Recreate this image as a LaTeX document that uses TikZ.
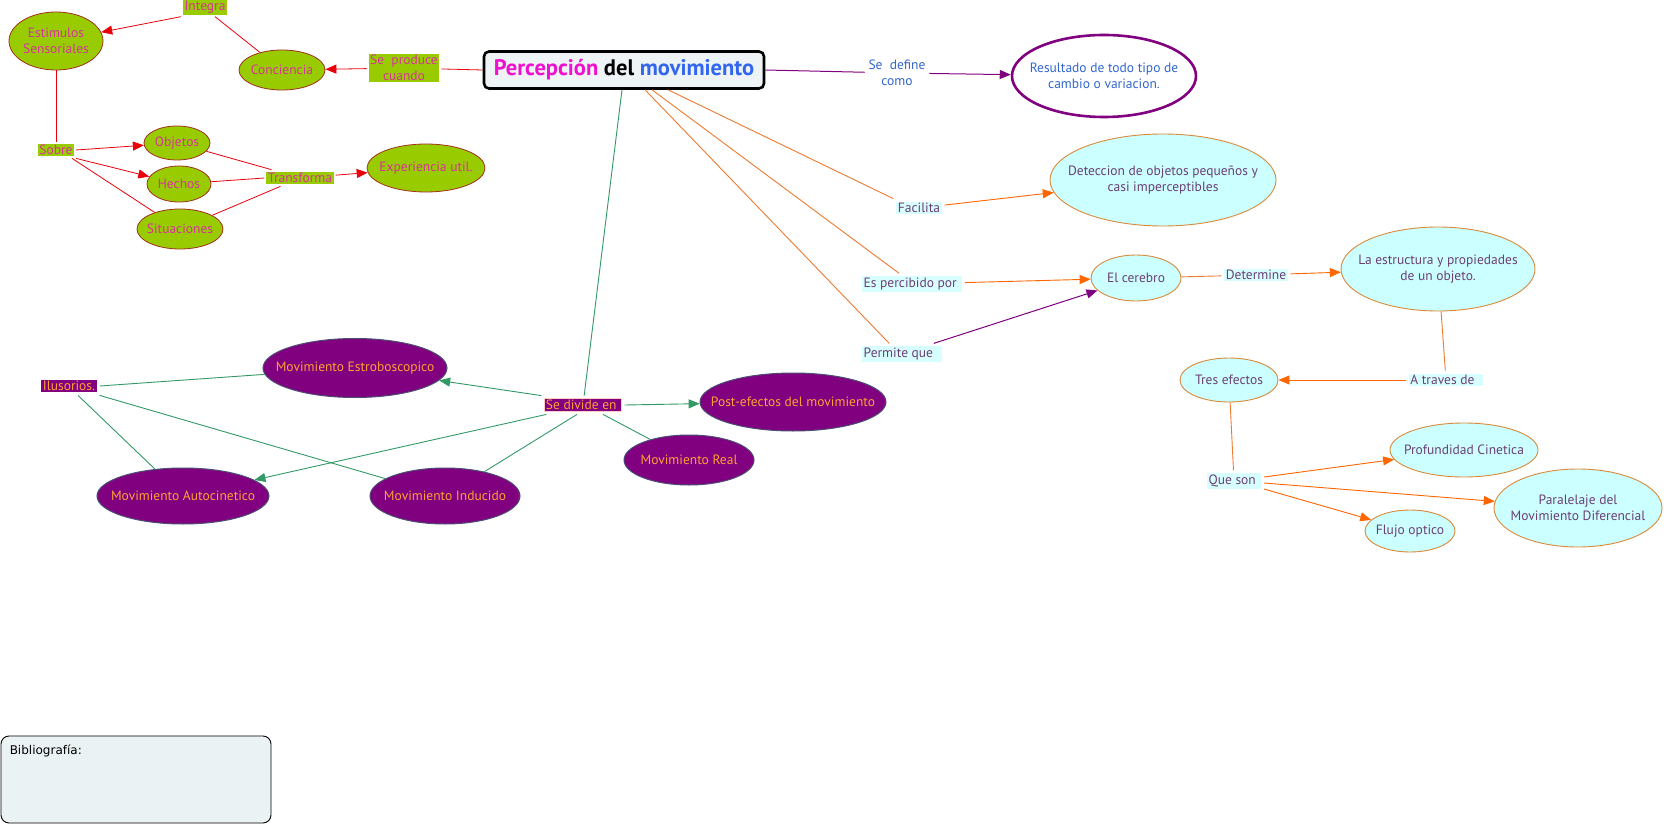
\documentclass[tikz,border=0pt]{standalone}
\usepackage{fontspec}
\setmainfont{PT Sans}
\newfontfamily\bibfont{DejaVu Sans}
\usetikzlibrary{shapes.geometric,arrows.meta}
\definecolor{ggreen}{HTML}{99CC00}
\definecolor{gpink}{HTML}{D6339C}
\definecolor{gborder}{HTML}{A0301A}
\definecolor{rline}{HTML}{E8000B}
\definecolor{purp}{HTML}{800080}
\definecolor{bluetxt}{HTML}{3366CC}
\definecolor{titlemag}{HTML}{F010D0}
\definecolor{titleblue}{HTML}{3366EE}
\definecolor{titlefill}{HTML}{EEF3F6}
\definecolor{cfill}{HTML}{CCFFFF}
\definecolor{clabel}{HTML}{D8FFFF}
\definecolor{oborder}{HTML}{D98A3A}
\definecolor{oline}{HTML}{EE7A30}
\definecolor{oarrow}{HTML}{FF6600}
\definecolor{ptxt}{HTML}{6B3F75}
\definecolor{mborder}{HTML}{4D4D73}
\definecolor{mtxt}{HTML}{FFA033}
\definecolor{gline}{HTML}{339966}
\definecolor{bibfill}{HTML}{EBF2F4}
\tikzset{
  base/.style={font=\fontsize{13.5}{16}\selectfont, align=center, inner sep=0pt},
  gtxt/.style={base, text=gpink},
  ctxt/.style={base, text=ptxt},
  mtx/.style={base, text=mtxt},
  btxt/.style={base, text=bluetxt},
  gell/.style={ellipse, inner sep=0pt, fill=ggreen, draw=gborder, line width=0.8pt},
  glab/.style={base, fill=ggreen, text=gpink, inner sep=1.5pt, outer sep=2pt},
  cell/.style={ellipse, inner sep=0pt, fill=cfill, draw=oborder, line width=0.9pt},
  clab/.style={base, fill=clabel, text=ptxt, inner sep=1.5pt, outer sep=3pt},
  mell/.style={ellipse, inner sep=0pt, fill=purp, draw=mborder, line width=1pt},
  mlab/.style={base, fill=purp, text=mtxt, inner sep=1.5pt, outer sep=3pt},
  tip/.style={-{Triangle[length=11pt,width=9pt]}},
  redl/.style={draw=rline, line width=0.8pt},
  redtip/.style={redl, tip, rline},
  orl/.style={draw=oline, line width=0.9pt},
  ortip/.style={draw=oarrow, line width=0.9pt, tip},
  pul/.style={draw=purp, line width=1pt},
  putip/.style={pul, tip},
  grl/.style={draw=gline, line width=0.9pt},
  grtip/.style={grl, tip},
}
\begin{document}
\begin{tikzpicture}[x=1pt,y=-1pt]
\useasboundingbox (0,0) rectangle (1664,826);
\fill[white] (0,0) rectangle (1664,826);

% green cluster
\node[gell, minimum width=94pt, minimum height=58pt, label={[gtxt]center:Estimulos\\Sensoriales}] (est) at (56,41) {};
\node[gell, minimum width=86pt, minimum height=40pt, label={[gtxt]center:Conciencia}] (conc) at (282,70) {};
\node[gell, minimum width=66pt, minimum height=34pt, label={[gtxt]center:Objetos}] (obj) at (177,143) {};
\node[gell, minimum width=64pt, minimum height=36pt, label={[gtxt]center:Hechos}] (hech) at (179,184) {};
\node[gell, minimum width=86pt, minimum height=40pt, label={[gtxt]center:Situaciones}] (sit) at (180,229) {};
\node[gell, minimum width=118pt, minimum height=48pt, label={[gtxt]center:Experiencia util.}] (exp) at (426,168) {};
\node[glab] (integ) at (205,7) {Integra};
\node[glab] (seprod) at (404,68) {Se~~produce\\cuando};
\node[glab] (sobre) at (56,150) {Sobre};
\node[glab] (transf) at (300,178) {Transforma};

% title
\node[draw=black, line width=2.6pt, rounded corners=5pt, fill=titlefill,
      minimum width=280pt, minimum height=37pt, inner sep=0pt,
      font=\fontsize{22.5}{24}\selectfont\bfseries] (title) at (624,70)
      {\textcolor{titlemag}{Percepción} \textcolor{black}{del} \textcolor{titleblue}{movimiento}};

% right side
\node[btxt, outer sep=4pt] (sedef) at (897,73) {Se~~define\\como};
\node[ellipse, inner sep=0pt, draw=purp, line width=2.6pt, fill=white,
      minimum width=184pt, minimum height=82pt, label={[btxt]center:Resultado de todo tipo de\\cambio o variacion.}] (res) at (1104,76) {};
\node[cell, minimum width=226pt, minimum height=92pt, label={[ctxt]center:Deteccion de objetos pequeños y\\casi imperceptibles}] (det) at (1163,180) {};
\node[clab] (facil) at (919,208) {Facilita};
\node[clab] (esperc) at (912,284) {Es percibido por~};
\node[clab] (permite) at (902,354) {Permite que~~};
\node[cell, minimum width=90pt, minimum height=46pt, label={[ctxt]center:El cerebro}] (cer) at (1136,278) {};
\node[clab] (determ) at (1256,275) {Determine};
\node[cell, minimum width=194pt, minimum height=84pt, label={[ctxt]center:La estructura y propiedades\\de un objeto.}] (estr) at (1438,269) {};
\node[clab] (atrav) at (1446,380) {A traves de~~};
\node[cell, minimum width=98pt, minimum height=44pt, label={[ctxt]center:Tres efectos}] (tres) at (1229,380) {};
\node[clab] (queson) at (1234,481) {Que son~};
\node[cell, minimum width=148pt, minimum height=54pt, label={[ctxt]center:Profundidad Cinetica}] (prof) at (1464,450) {};
\node[cell, minimum width=168pt, minimum height=78pt, label={[ctxt]center:Paralelaje del\\Movimiento Diferencial}] (para) at (1578,508) {};
\node[cell, minimum width=90pt, minimum height=42pt, label={[ctxt]center:Flujo optico}] (flujo) at (1410,531) {};

% purple cluster
\node[mlab] (ilus) at (69,386) {Ilusorios.};
\node[mell, minimum width=184pt, minimum height=59pt, label={[mtx]center:Movimiento Estroboscopico}] (estrob) at (355,368) {};
\node[mell, minimum width=172pt, minimum height=56pt, label={[mtx]center:Movimiento Autocinetico}] (auto) at (183,496) {};
\node[mell, minimum width=150pt, minimum height=56pt, label={[mtx]center:Movimiento Inducido}] (induc) at (445,496) {};
\node[mlab, draw=pink!80, line width=0.8pt] (sediv) at (583,405) {Se divide en~};
\node[mell, minimum width=186pt, minimum height=58pt, label={[mtx]center:Post-efectos del movimiento}] (post) at (793,402) {};
\node[mell, minimum width=130pt, minimum height=50pt, label={[mtx]center:Movimiento Real}] (real) at (689,460) {};

% bibliography
\node[draw=black, line width=0.9pt, rounded corners=8pt, fill=bibfill,
      minimum width=270pt, minimum height=87pt, inner sep=0pt] (bib) at (136,779.5) {};
\node[anchor=north west, inner sep=0pt, font=\bibfont\fontsize{12}{14}\selectfont] (bibt) at ([xshift=9pt,yshift=-9pt]bib.north west) {Bibliografía:};

% green cluster edges
\draw[redtip] (integ.south west) -- (est);
\draw[redl] ([xshift=10pt]integ.south) -- (conc);
\draw[redtip] (seprod) -- (conc);
\draw[redl] (title.west) -- (seprod);
\draw[redl] (est) -- (sobre);
\draw[redtip] (sobre.east) -- (obj);
\draw[redtip] (sobre.south east) -- (hech);
\draw[redl] ([xshift=-4pt]sobre.south east) -- (sit);
\draw[redl] (obj) -- ([xshift=7pt]transf.north west);
\draw[redl] (hech) -- (transf.west);
\draw[redl] (sit) -- ([xshift=16pt]transf.south west);
\draw[redtip] (transf) -- (exp);

% right edges
\draw[pul] (title.east) -- (sedef);
\draw[putip] (sedef) -- (res);
\draw[orl] ([xshift=44pt]title.south) -- (facil.north west);
\draw[ortip] (facil) -- (det);
\draw[orl] ([xshift=28pt]title.south) -- ([xshift=40pt]esperc.north west);
\draw[ortip] (esperc) -- (cer);
\draw[orl] ([xshift=21pt]title.south) -- ([xshift=30pt]permite.north west);
\draw[putip] ([xshift=-11pt]permite.north east) -- (cer);
\draw[orl] (cer) -- (determ);
\draw[ortip] (determ) -- (estr);
\draw[orl] (estr) -- (atrav);
\draw[ortip] (atrav) -- (tres);
\draw[orl] (tres) -- (queson);
\draw[ortip] ([yshift=4pt]queson.east) -- (prof);
\draw[ortip] ([yshift=-2pt]queson.east) -- (para);
\draw[ortip] ([yshift=-8pt]queson.east) -- (flujo);

% purple cluster edges
\draw[grl] ([xshift=-2pt]title.south) -- (sediv);
\draw[grtip] (sediv.north west) -- (estrob);
\draw[grtip] (sediv.east) -- (post);
\draw[grl] ([xshift=20pt]sediv.south) -- (real);
\draw[grl] ([xshift=-6pt]sediv.south) -- (induc);
\draw[grtip] ([xshift=5pt]sediv.south west) -- (auto);
\draw[grl] (ilus.east) -- (estrob);
\draw[grl] ([xshift=9pt]ilus.south) -- (auto);
\draw[grl] (ilus.south east) -- (induc);
\end{tikzpicture}
\end{document}
